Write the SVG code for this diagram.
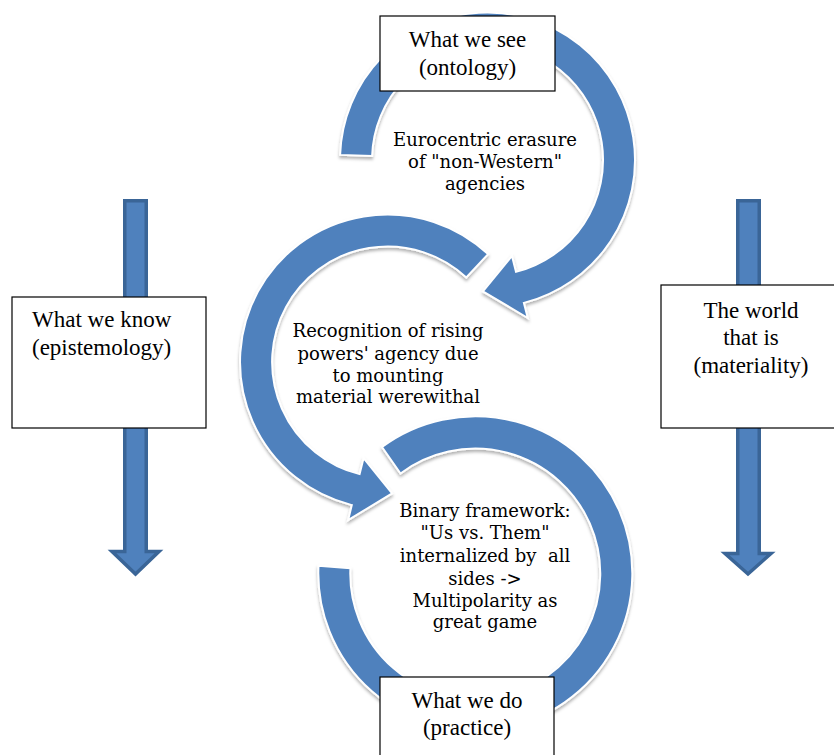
<svg xmlns="http://www.w3.org/2000/svg" width="834" height="755" viewBox="0 0 834 755">
  <style>
    .ring { fill: #4f81bd; stroke: #ffffff; stroke-width: 2; filter: url(#shade); }
    .down { fill: #4f81bd; stroke: #3a6597; stroke-width: 3.5; stroke-linejoin: miter; }
    .box { fill: #ffffff; stroke: #000000; stroke-width: 1.2; }
    .label { font-family: "Liberation Serif", "Times New Roman", serif; font-size: 23px; fill: #000; }
    .inner { font-family: "DejaVu Serif", "Liberation Serif", serif; font-size: 18px; fill: #000; text-anchor: middle; }
    .mid { text-anchor: middle; }
  </style>
  <defs>
    <filter id="shade" x="-10%" y="-10%" width="120%" height="125%">
      <feDropShadow dx="0" dy="2.5" stdDeviation="1.5" flood-color="#000" flood-opacity="0.3"/>
    </filter>
  </defs>
  <rect width="834" height="755" fill="#ffffff"/>

  <!-- vertical side arrows -->
  <g id="connectors">
    <polygon class="down" points="124.75,200.75 146.25,200.75 146.25,551.5 159,551.5 135.5,574 112,551.5 124.75,551.5"/>
    <polygon class="down" points="737.75,200.75 759.25,200.75 759.25,553.5 771,553.5 748,574 725,553.5 737.75,553.5"/>
  </g>

  <!-- top circular arrow -->
  <g id="ring-ontology">
    <path class="ring" d="M340.1,154.9 A147.5,147.5 0 1 1 523.9,302.9 L527.8,318 L482.9,291.4 L512,255.9 L516,271.9 A115.5,115.5 0 1 0 372.1,156 Z"/>
    <text class="inner" x="485" y="146">Eurocentric erasure</text>
    <text class="inner" x="485" y="168">of "non-Western"</text>
    <text class="inner" x="485" y="190">agencies</text>
  </g>

  <!-- middle circular arrow -->
  <g id="ring-epistemology">
    <path class="ring" d="M488.1,254.1 A147.5,147.5 0 1 0 351.8,505.1 L348.1,520.2 L392.1,493.4 L363.6,458.1 L359.6,474.1 A115.5,115.5 0 1 1 466.3,277.5 Z"/>
    <text class="inner" x="388" y="337">Recognition of rising</text>
    <text class="inner" x="388" y="360">powers' agency due</text>
    <text class="inner" x="388" y="382">to mounting</text>
    <text class="inner" x="388" y="403">material werewithal</text>
  </g>

  <!-- bottom circular arrow -->
  <g id="ring-practice">
    <path class="ring" d="M382,447 A157,157 0 1 1 318.5,565.7 L350.4,568.2 A125,125 0 1 0 400.5,473.5 Z"/>
    <text class="inner" x="485" y="517">Binary framework:</text>
    <text class="inner" x="485" y="539">"Us vs. Them"</text>
    <text class="inner" x="485" y="562" xml:space="preserve">internalized by  all</text>
    <text class="inner" x="485" y="585">sides -&gt;</text>
    <text class="inner" x="485" y="607">Multipolarity as</text>
    <text class="inner" x="485" y="628">great game</text>
  </g>

  <!-- labelled boxes -->
  <g id="box-see">
    <rect class="box" x="380" y="16" width="175" height="75"/>
    <text class="label mid" x="467.5" y="47">What we see</text>
    <text class="label mid" x="467.5" y="75">(ontology)</text>
  </g>
  <g id="box-know">
    <rect class="box" x="12" y="297" width="194" height="131"/>
    <text class="label" x="32" y="327">What we know</text>
    <text class="label" x="32" y="355">(epistemology)</text>
  </g>
  <g id="box-world">
    <rect class="box" x="661" y="285" width="190" height="143"/>
    <text class="label mid" x="751" y="318">The world</text>
    <text class="label mid" x="751" y="345">that is</text>
    <text class="label mid" x="751" y="373">(materiality)</text>
  </g>
  <g id="box-do">
    <rect class="box" x="380" y="677" width="174" height="90"/>
    <text class="label mid" x="467" y="708">What we do</text>
    <text class="label mid" x="467" y="735">(practice)</text>
  </g>
</svg>
